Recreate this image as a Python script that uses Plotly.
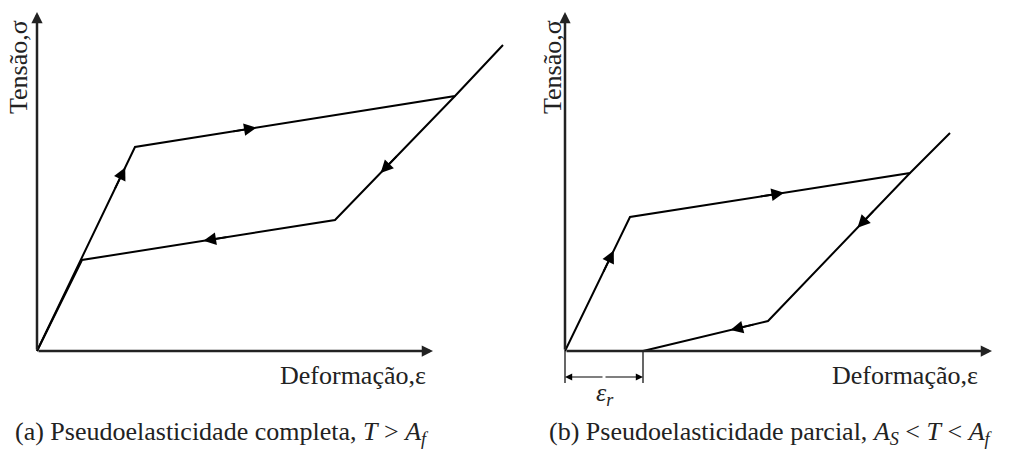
import plotly.graph_objects as go

# ---- data (arbitrary strain / stress units) ----
# Panel (a): complete pseudoelasticity
a_load_eps = [0.0, 1.96, 8.36, 9.32]
a_load_sig = [0.0, 4.08, 5.10, 6.12]
a_unload_eps = [8.36, 5.96, 0.90, 0.0]
a_unload_sig = [5.10, 2.62, 1.82, 0.0]

# Panel (b): partial pseudoelasticity
b_load_eps = [0.0, 1.30, 6.90, 7.70]
b_load_sig = [0.0, 2.68, 3.56, 4.36]
b_unload_eps = [6.90, 4.06, 1.56]
b_unload_sig = [3.56, 0.60, 0.0]

# where direction arrows sit (segment start index in path, fraction along it)
a_arrows = [("load", 0, 0.90), ("load", 1, 0.38), ("unload", 0, 0.62), ("unload", 1, 0.52)]
b_arrows = [("load", 0, 0.75), ("load", 1, 0.55), ("unload", 0, 0.37), ("unload", 1, 0.30)]

AXIS_X_END_A = 7.92
AXIS_X_END_B = 8.54
AXIS_Y_END = 6.78

FONT = "Liberation Serif, Times New Roman, serif"
W, H = 1009, 450
SCALE = 50.0  # px per unit
ORIGIN_A = (37, 351)
ORIGIN_B = (565, 351)

fig = go.Figure()

def xr(origin):
    return [-origin[0] / SCALE, (W - origin[0]) / SCALE]

yr = [-(H - ORIGIN_A[1]) / SCALE, ORIGIN_A[1] / SCALE]

line_style = dict(color="black", width=2)
fig.add_trace(go.Scatter(x=a_load_eps, y=a_load_sig, mode="lines", line=line_style, xaxis="x", yaxis="y", hoverinfo="skip"))
fig.add_trace(go.Scatter(x=a_unload_eps, y=a_unload_sig, mode="lines", line=line_style, xaxis="x", yaxis="y", hoverinfo="skip"))
fig.add_trace(go.Scatter(x=b_load_eps, y=b_load_sig, mode="lines", line=line_style, xaxis="x2", yaxis="y2", hoverinfo="skip"))
fig.add_trace(go.Scatter(x=b_unload_eps, y=b_unload_sig, mode="lines", line=line_style, xaxis="x2", yaxis="y2", hoverinfo="skip"))

annotations = []

def path_arrows(paths, arrows, xref, yref):
    for name, i, f in arrows:
        xs, ys = paths[name]
        x0, y0, x1, y1 = xs[i], ys[i], xs[i + 1], ys[i + 1]
        tx, ty = x0 + f * (x1 - x0), y0 + f * (y1 - y0)
        g = f - 0.5 / max(((x1 - x0) ** 2 + (y1 - y0) ** 2) ** 0.5, 1e-9)
        sx, sy = x0 + g * (x1 - x0), y0 + g * (y1 - y0)
        annotations.append(dict(x=tx, y=ty, ax=sx, ay=sy, xref=xref, yref=yref,
                                axref=xref, ayref=yref, text="", showarrow=True,
                                arrowhead=2, arrowsize=1.4, arrowwidth=1.8,
                                arrowcolor="black", standoff=0, startstandoff=0))

path_arrows({"load": (a_load_eps, a_load_sig), "unload": (a_unload_eps, a_unload_sig)}, a_arrows, "x", "y")
path_arrows({"load": (b_load_eps, b_load_sig), "unload": (b_unload_eps, b_unload_sig)}, b_arrows, "x2", "y2")

def axis_arrow(x, y, ax, ay, xref, yref):
    annotations.append(dict(x=x, y=y, ax=ax, ay=ay, xref=xref, yref=yref, axref=xref, ayref=yref,
                            text="", showarrow=True, arrowhead=2, arrowsize=0.9, arrowwidth=2.5,
                            arrowcolor="#222", standoff=0))

axis_arrow(AXIS_X_END_A, 0, 0, 0, "x", "y")
axis_arrow(0, AXIS_Y_END, 0, 0, "x", "y")
axis_arrow(AXIS_X_END_B, 0, 0, 0, "x2", "y2")
axis_arrow(0, AXIS_Y_END, 0, 0, "x2", "y2")

txt = dict(family=FONT, size=26, color="#222")
for xref, yref, ylab_x, xlab_right in [("x", "y", -0.38, 7.82), ("x2", "y2", -0.26, 8.30)]:
    annotations.append(dict(x=ylab_x, y=5.68, xref=xref, yref=yref, text="Tensão,σ", textangle=-90,
                            showarrow=False, font=txt, xanchor="center", yanchor="middle"))
    annotations.append(dict(x=xlab_right, y=-0.48, xref=xref, yref=yref, text="Deformação,ε",
                            showarrow=False, font=txt, xanchor="right", yanchor="middle"))

# epsilon_r dimension in panel (b)
er = b_unload_eps[-1]
fig.add_shape(type="line", x0=0, x1=0, y0=0, y1=-0.64, xref="x2", yref="y2", line=dict(color="black", width=1.2))
fig.add_shape(type="line", x0=er, x1=er, y0=0, y1=-0.64, xref="x2", yref="y2", line=dict(color="black", width=1.2))
for a, b in [(0, er), (er, 0)]:
    annotations.append(dict(x=a, y=-0.52, ax=(a + b) / 2, ay=-0.52, xref="x2", yref="y2", axref="x2", ayref="y2",
                            text="", showarrow=True, arrowhead=2, arrowsize=1.2, arrowwidth=1.2,
                            arrowcolor="black", standoff=0))
annotations.append(dict(x=0.8, y=-0.86, xref="x2", yref="y2", text="<i>ε<sub>r</sub></i>",
                        showarrow=False, font=txt, xanchor="center", yanchor="middle"))

annotations.append(dict(x=13 / W, y=1 - 433 / H, xref="paper", yref="paper",
                        text="(a) Pseudoelasticidade completa, <i>T</i> > <i>A<sub>f</sub></i>",
                        showarrow=False, font=txt, xanchor="left", yanchor="middle"))
annotations.append(dict(x=547 / W, y=1 - 433 / H, xref="paper", yref="paper",
                        text="(b) Pseudoelasticidade parcial, <i>A<sub>S</sub></i> < <i>T</i> < <i>A<sub>f</sub></i>",
                        showarrow=False, font=txt, xanchor="left", yanchor="middle"))

hidden = dict(visible=False, showgrid=False, zeroline=False, fixedrange=True)
fig.update_layout(
    width=W, height=H, margin=dict(l=0, r=0, t=0, b=0),
    paper_bgcolor="white", plot_bgcolor="white", showlegend=False,
    font=dict(family=FONT),
    xaxis=dict(domain=[0, 1], range=xr(ORIGIN_A), **hidden),
    yaxis=dict(domain=[0, 1], range=yr, **hidden),
    xaxis2=dict(domain=[0, 1], range=xr(ORIGIN_B), overlaying="x", anchor="y2", **hidden),
    yaxis2=dict(domain=[0, 1], range=yr, overlaying="y", anchor="x2", **hidden),
    annotations=annotations,
)

fig.write_html("out.html")
